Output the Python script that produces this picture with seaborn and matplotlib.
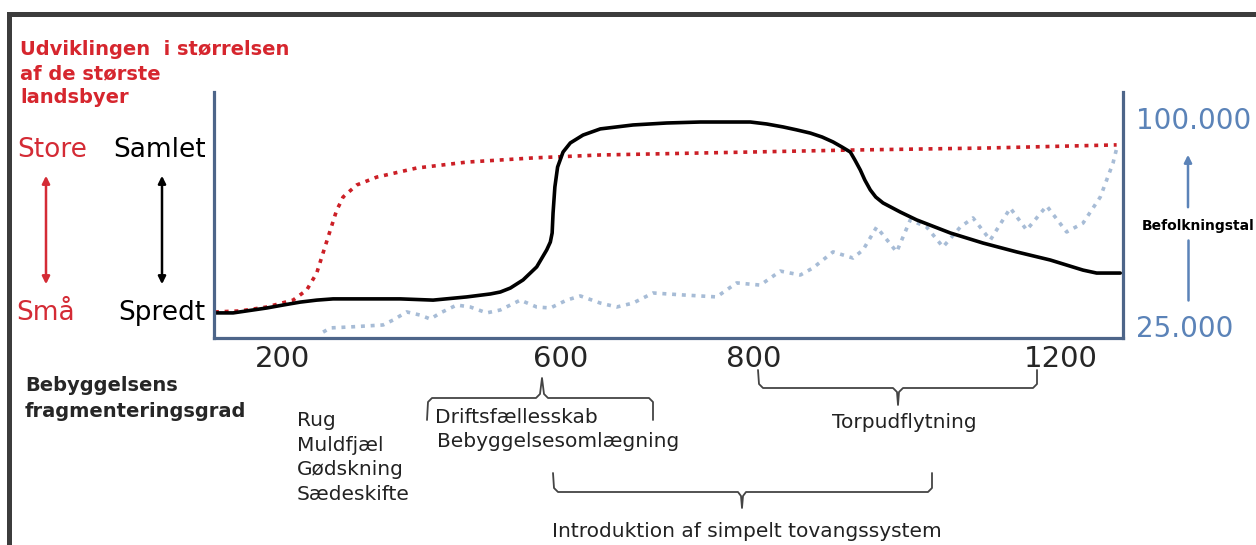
import numpy as np
import pandas as pd
import seaborn as sns
import matplotlib.pyplot as plt
from matplotlib.lines import Line2D
from matplotlib.patches import Rectangle, FancyArrowPatch

sns.set_style("white")
plt.rcParams['font.family'] = ['DejaVu Sans']

# -- data (x: position 0-100 across the box, y: level 0-100) --
black_x = [0, 2.1, 5.8, 7.6, 9.5, 11.3, 13.1, 20.5, 24.1, 27.8, 30.4, 31.5, 32.6, 34.0, 35.5,
           36.6, 37.0, 37.2, 37.3, 37.5, 37.8, 38.4, 39.2, 40.6, 42.5, 44.3, 46.1, 49.8, 53.5,
           59.0, 60.8, 62.6, 64.1, 65.6, 66.9, 68.1, 69.1, 70.0, 70.5, 71.1, 71.6, 72.2, 72.8,
           73.6, 75.5, 77.3, 81.0, 84.6, 88.3, 92.0, 95.6, 97.1, 99.7]
black_y = [10.2, 10.2, 12.2, 13.4, 14.6, 15.4, 15.9, 15.9, 15.4, 16.7, 17.9, 18.7, 20.3, 23.6, 28.9,
           35.8, 39.0, 42.7, 50.8, 61.4, 69.5, 75.6, 79.3, 82.5, 85.0, 85.8, 86.6, 87.4, 87.8,
           87.8, 87.0, 85.8, 84.6, 83.3, 81.7, 79.7, 77.6, 75.6, 72.4, 68.3, 64.2, 60.2, 57.3,
           54.9, 51.2, 48.0, 42.7, 38.6, 35.0, 31.7, 27.6, 26.4, 26.4]

red_x = [0.1, 2.9, 5.8, 8.7, 10.2, 11.3, 12.0, 12.8, 13.5, 13.9, 14.2, 15.7, 17.9, 22.3, 27.8,
         35.1, 42.5, 53.5, 70.0, 84.6, 99.3]
red_y = [10.6, 11.0, 12.6, 15.4, 19.5, 26.4, 34.6, 43.9, 52.0, 54.9, 57.3, 62.2, 65.4, 69.1, 71.5,
         73.2, 74.4, 75.2, 76.4, 77.2, 78.5]

blue_x = [12.0, 12.8, 15.0, 18.6, 19.7, 21.2, 22.7, 23.8, 24.9, 26.7, 28.2, 30.0, 31.5, 33.7,
          35.5, 37.0, 38.8, 40.3, 42.5, 44.3, 46.1, 48.3, 51.6, 55.3, 57.5, 60.1, 62.3, 64.5,
          65.9, 68.1, 70.3, 71.4, 72.9, 75.1, 76.6, 78.4, 80.2, 82.1, 83.5, 85.4, 87.6, 89.4,
          91.6, 93.8, 95.6, 97.5, 98.9, 99.4]
blue_y = [2.4, 4.1, 4.5, 5.3, 7.3, 10.6, 9.3, 7.7, 10.2, 13.4, 12.6, 10.2, 11.4, 15.4,
          12.6, 12.2, 15.4, 17.1, 14.2, 12.6, 14.2, 18.3, 17.5, 16.7, 22.4, 21.5, 27.2, 25.6,
          28.5, 35.0, 32.5, 35.8, 45.1, 35.0, 48.0, 45.1, 37.0, 45.1, 48.8, 39.8, 52.8, 43.9,
          53.7, 43.1, 46.7, 57.3, 71.1, 78.5]

tick_pos = [7.5, 38.1, 59.4, 93.1]
tick_labels = ['200', '600', '800', '1200']

pop_pos = [89.4, 4.9]
pop_labels = ['100.000', '25.000']

title_lines = ['Udviklingen  i størrelsen', 'af de største', 'landsbyer']
innovations = ['Rug', 'Muldfjæl', 'Gødskning', 'Sædeskifte']

black_df = pd.DataFrame({'pos': black_x, 'level': black_y})
red_df = pd.DataFrame({'pos': red_x, 'level': red_y})
blue_df = pd.DataFrame({'pos': blue_x, 'level': blue_y})

W, H = 1256, 545
fig = plt.figure(figsize=(W / 100, H / 100), dpi=100)


def fx(px):
    return px / W


def fy(py):
    return 1 - py / H


def ftext(px, py, s, **kw):
    fig.text(fx(px), fy(py), s, **kw)


def fline(pts, **kw):
    fig.add_artist(Line2D([fx(p[0]) for p in pts], [fy(p[1]) for p in pts], **kw))


def farrow(p0, p1, style, color):
    fig.add_artist(FancyArrowPatch(
        (fx(p0[0]), fy(p0[1])), (fx(p1[0]), fy(p1[1])), transform=fig.transFigure,
        arrowstyle=style, mutation_scale=11, color=color, lw=1.8))


ax = fig.add_axes([fx(214), fy(338), (1123 - 214) / W, (338 - 92) / H])

sns.lineplot(data=blue_df, x='pos', y='level', ax=ax, color='#a7bcd6', lw=2.6,
             linestyle=(0, (1.1, 1.6)), estimator=None, sort=False)
sns.lineplot(data=red_df, x='pos', y='level', ax=ax, color='#cc1f26', lw=2.6,
             linestyle=(0, (1.1, 1.6)), estimator=None, sort=False)
sns.lineplot(data=black_df, x='pos', y='level', ax=ax, color='black', lw=2.6,
             estimator=None, sort=False)

ax.set_xlim(0, 100)
ax.set_ylim(0, 100)
ax.set_xlabel('')
ax.set_ylabel('')
ax.set_yticks([])
ax.set_xticks(tick_pos, tick_labels)
ax.tick_params(axis='x', length=0, pad=5, labelsize=21)
ax.spines['top'].set_visible(False)
for s in ['left', 'right', 'bottom']:
    ax.spines[s].set_color('#4d6589')
    ax.spines[s].set_linewidth(2.3)

ax2 = ax.twinx()
ax2.set_ylim(0, 100)
ax2.set_yticks(pop_pos, pop_labels)
ax2.tick_params(axis='y', length=0, pad=9, labelsize=20, labelcolor='#5b83b8')
for s in ax2.spines.values():
    s.set_visible(False)

# frame of the slide
fig.add_artist(Rectangle((fx(7), fy(17)), 1 - fx(7), 5 / H, transform=fig.transFigure,
                         color='#3c3c3c', lw=0))
fig.add_artist(Rectangle((fx(7), 0), 5 / W, fy(12), transform=fig.transFigure,
                         color='#3c3c3c', lw=0))

# left annotations
for i, line in enumerate(title_lines):
    ftext(20, 55 + 24 * i, line, color='#d6262e', fontsize=14, fontweight='bold', va='baseline')
ftext(17, 157, 'Store', color='#d42b35', fontsize=19, va='baseline')
ftext(113, 157, 'Samlet', color='black', fontsize=19, va='baseline')
ftext(16, 320, 'Små', color='#d42b35', fontsize=19, va='baseline')
ftext(118, 320, 'Spredt', color='black', fontsize=19, va='baseline')
farrow((46, 173), (46, 287), '<|-|>', '#d42b35')
farrow((162, 173), (162, 287), '<|-|>', 'black')

# right annotations
farrow((1188, 210), (1188, 152), '-|>', '#5b83b8')
fline([(1188, 240), (1188, 300)], color='#5b83b8', lw=1.8)
ftext(1142, 226, 'Befolkningstal', color='black', fontsize=10, fontweight='bold', va='center')

# bottom annotations
ftext(25, 391, 'Bebyggelsens', fontsize=14, fontweight='bold', va='baseline')
ftext(25, 417, 'fragmenteringsgrad', fontsize=14, fontweight='bold', va='baseline')
for i, word in enumerate(innovations):
    ftext(297, 426 + 24.7 * i, word, fontsize=14.5, color='#222222', va='baseline')
ftext(435, 423, 'Driftsfællesskab', fontsize=14.5, color='#222222', va='baseline')
ftext(437, 447, 'Bebyggelsesomlægning', fontsize=14.5, color='#222222', va='baseline')
ftext(832, 428, 'Torpudflytning', fontsize=14.5, color='#222222', va='baseline')
ftext(552, 537, 'Introduktion af simpelt tovangssystem', fontsize=14.5, color='#222222',
      va='baseline')

brace = dict(color='#444444', lw=1.3)
fline([(427, 420), (428, 402), (432, 398), (536, 398), (540, 394), (542, 378),
       (544, 394), (548, 398), (649, 398), (653, 402), (653, 420)], **brace)
fline([(758, 370), (759, 384), (763, 388), (893, 388), (897, 392), (898, 405),
       (899, 392), (903, 388), (1033, 388), (1037, 384), (1037, 370)], **brace)
fline([(553, 473), (554, 488), (558, 492), (738, 492), (741, 496), (742, 508),
       (743, 496), (746, 492), (928, 492), (932, 488), (932, 473)], **brace)

fig.savefig('out.png', dpi=100)
